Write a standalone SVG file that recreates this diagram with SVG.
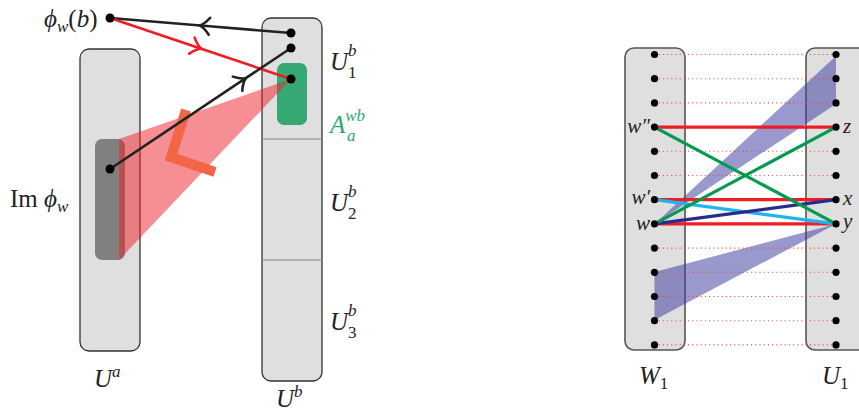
<svg xmlns="http://www.w3.org/2000/svg" width="859" height="413" viewBox="0 0 859 413">
<defs>
<style>
.box{fill:#dfdfdf;stroke:#333;stroke-width:1.3}
.box2{fill:#dfdfdf;stroke:#555;stroke-width:1.6}
.sep{stroke:#888;stroke-width:1}
.m{font-family:"Liberation Serif","DejaVu Serif",serif;font-style:italic;font-size:25px;fill:#222}
.s{font-size:21px}
.r{font-style:normal}
.dot{fill:#000}
.blk{stroke:#222;stroke-width:2.6;fill:none}
.red{stroke:#ee1c25;stroke-width:2.6;fill:none}
.dotted{stroke:#f03a3a;stroke-width:1.1;stroke-dasharray:1 3.2;fill:none}
.tred{stroke:#ee1c25;stroke-width:3.2}
.tgreen{stroke:#009a50;stroke-width:3.2}
.tcyan{stroke:#1eb4ee;stroke-width:3.2}
.tnavy{stroke:#2b2b8c;stroke-width:3.2}
.fan{fill:#3c3ca0;fill-opacity:0.52}
</style>
<marker id="chk" markerUnits="userSpaceOnUse" markerWidth="24" markerHeight="24" refX="0" refY="0" viewBox="-12 -12 24 24" orient="auto" overflow="visible">
<path d="M -9 -8.5 C -5 -3.5 -2 -1 1 0 C -2 1 -5 3.5 -9 8.5" fill="none" stroke="#222" stroke-width="2.6" stroke-linecap="round"/>
</marker>
<marker id="chr" markerUnits="userSpaceOnUse" markerWidth="24" markerHeight="24" refX="0" refY="0" viewBox="-12 -12 24 24" orient="auto" overflow="visible">
<path d="M -9 -8.5 C -5 -3.5 -2 -1 1 0 C -2 1 -5 3.5 -9 8.5" fill="none" stroke="#ee1c25" stroke-width="2.6" stroke-linecap="round"/>
</marker>
</defs>

<!-- Left diagram -->
<g id="Ua">
<rect class="box" x="80" y="49" width="60" height="302" rx="9"/>
<text class="m" x="94" y="387">U<tspan dy="-10" font-size="17">a</tspan></text>
</g>
<g id="Ub">
<rect class="box" x="262" y="18" width="60" height="363" rx="9"/>
<line class="sep" x1="262" y1="139" x2="322" y2="139"/>
<line class="sep" x1="262" y1="260" x2="322" y2="260"/>
<text class="m" x="276" y="407">U<tspan dy="-10" font-size="17">b</tspan></text>
<text class="m" x="330" y="70">U<tspan dy="-14" font-size="17">b</tspan><tspan class="r" x="348" dy="22" font-size="17">1</tspan></text>
<text class="m" x="330" y="211">U<tspan dy="-14" font-size="17">b</tspan><tspan class="r" x="348" dy="22" font-size="17">2</tspan></text>
<text class="m" x="330" y="330">U<tspan dy="-14" font-size="17">b</tspan><tspan class="r" x="348" dy="22" font-size="17">3</tspan></text>
</g>
<g id="Aawb">
<rect x="277" y="63" width="30" height="62" rx="7" fill="#36a874"/>
<text class="m" x="330" y="133" style="fill:#2fa66e">A<tspan dy="-12" font-size="17">wb</tspan><tspan x="347" dy="20" font-size="17">a</tspan></text>
</g>
<g id="Imphi">
<rect x="95" y="139" width="30" height="121" rx="7" fill="#808080"/>
<text class="m" x="10" y="207"><tspan class="r">Im</tspan> ϕ<tspan dy="5" font-size="17">w</tspan></text>
</g>
<g id="cone">
<polygon points="119,139 119,260 291,79" fill="#ee1e28" fill-opacity="0.5"/>
<polyline points="186,110 171,157 215,172" fill="none" stroke="#f26546" stroke-width="10"/>
</g>
<g id="phiwb">
<text class="m" x="44" y="27">ϕ<tspan dy="5" font-size="17">w</tspan><tspan dy="-5" class="r">(</tspan>b<tspan class="r">)</tspan></text>
</g>
<g id="connectors-left">
<path class="blk" d="M291 33 L200.5 25.5 L110 18" marker-mid="url(#chk)"/>
<path class="red" d="M110 18 L200.5 48.5 L291 79" marker-mid="url(#chr)"/>
<path class="blk" d="M110 169 L245 78.7 L291 48" marker-mid="url(#chk)"/>
</g>
<g id="dots-left">
<circle class="dot" cx="110" cy="18" r="4.5"/>
<circle class="dot" cx="291" cy="33" r="4.5"/>
<circle class="dot" cx="291" cy="48" r="4.5"/>
<circle class="dot" cx="291" cy="79" r="4.5"/>
<circle class="dot" cx="110" cy="169" r="4.5"/>
</g>

<!-- Right diagram -->
<g id="W1">
<rect class="box2" x="625" y="48" width="60" height="302" rx="9"/>
<text class="m" x="639" y="384">W<tspan class="r" dy="5" font-size="17">1</tspan></text>
</g>
<g id="U1">
<rect class="box2" x="806" y="48" width="70" height="302" rx="9"/>
<text class="m" x="822" y="384">U<tspan class="r" dy="5" font-size="17">1</tspan></text>
</g>
<g id="fans">
<polygon class="fan" points="654.5,224 836,56 836,104"/>
<polygon class="fan" points="836,224 654.5,272 654.5,320"/>
</g>
<g id="connectors-right">
<line class="dotted" x1="654.5" y1="54.5" x2="836" y2="54.5"/>
<line class="dotted" x1="654.5" y1="78.7" x2="836" y2="78.7"/>
<line class="dotted" x1="654.5" y1="102.9" x2="836" y2="102.9"/>
<line class="dotted" x1="654.5" y1="151.3" x2="836" y2="151.3"/>
<line class="dotted" x1="654.5" y1="175.5" x2="836" y2="175.5"/>
<line class="dotted" x1="654.5" y1="248.1" x2="836" y2="248.1"/>
<line class="dotted" x1="654.5" y1="272.3" x2="836" y2="272.3"/>
<line class="dotted" x1="654.5" y1="296.5" x2="836" y2="296.5"/>
<line class="dotted" x1="654.5" y1="320.7" x2="836" y2="320.7"/>
<line class="dotted" x1="654.5" y1="344.9" x2="836" y2="344.9"/>
<line class="tred" x1="654.5" y1="127.1" x2="836" y2="127.1"/>
<line class="tred" x1="654.5" y1="199.7" x2="836" y2="199.7"/>
<line class="tred" x1="654.5" y1="223.9" x2="836" y2="223.9"/>
<line class="tcyan" x1="654.5" y1="199.7" x2="836" y2="223.9"/>
<line class="tnavy" x1="654.5" y1="223.9" x2="836" y2="199.7"/>
<line class="tgreen" x1="654.5" y1="127.1" x2="836" y2="223.9"/>
<line class="tgreen" x1="654.5" y1="223.9" x2="836" y2="127.1"/>
</g>
<g id="dots-right">
<circle class="dot" cx="654.5" cy="54.5" r="3.6"/><circle class="dot" cx="836" cy="54.5" r="3.6"/>
<circle class="dot" cx="654.5" cy="78.7" r="3.6"/><circle class="dot" cx="836" cy="78.7" r="3.6"/>
<circle class="dot" cx="654.5" cy="102.9" r="3.6"/><circle class="dot" cx="836" cy="102.9" r="3.6"/>
<circle class="dot" cx="654.5" cy="127.1" r="3.6"/><circle class="dot" cx="836" cy="127.1" r="3.6"/>
<circle class="dot" cx="654.5" cy="151.3" r="3.6"/><circle class="dot" cx="836" cy="151.3" r="3.6"/>
<circle class="dot" cx="654.5" cy="175.5" r="3.6"/><circle class="dot" cx="836" cy="175.5" r="3.6"/>
<circle class="dot" cx="654.5" cy="199.7" r="3.6"/><circle class="dot" cx="836" cy="199.7" r="3.6"/>
<circle class="dot" cx="654.5" cy="223.9" r="3.6"/><circle class="dot" cx="836" cy="223.9" r="3.6"/>
<circle class="dot" cx="654.5" cy="248.1" r="3.6"/><circle class="dot" cx="836" cy="248.1" r="3.6"/>
<circle class="dot" cx="654.5" cy="272.3" r="3.6"/><circle class="dot" cx="836" cy="272.3" r="3.6"/>
<circle class="dot" cx="654.5" cy="296.5" r="3.6"/><circle class="dot" cx="836" cy="296.5" r="3.6"/>
<circle class="dot" cx="654.5" cy="320.7" r="3.6"/><circle class="dot" cx="836" cy="320.7" r="3.6"/>
<circle class="dot" cx="654.5" cy="344.9" r="3.6"/><circle class="dot" cx="836" cy="344.9" r="3.6"/>
</g>
<g id="labels-right">
<text class="m s" x="650" y="133" text-anchor="end">w″</text>
<text class="m s" x="650" y="204" text-anchor="end">w′</text>
<text class="m s" x="650" y="230" text-anchor="end">w</text>
<text class="m s" x="843" y="133">z</text>
<text class="m s" x="843" y="205">x</text>
<text class="m s" x="843" y="228">y</text>
</g>
</svg>
